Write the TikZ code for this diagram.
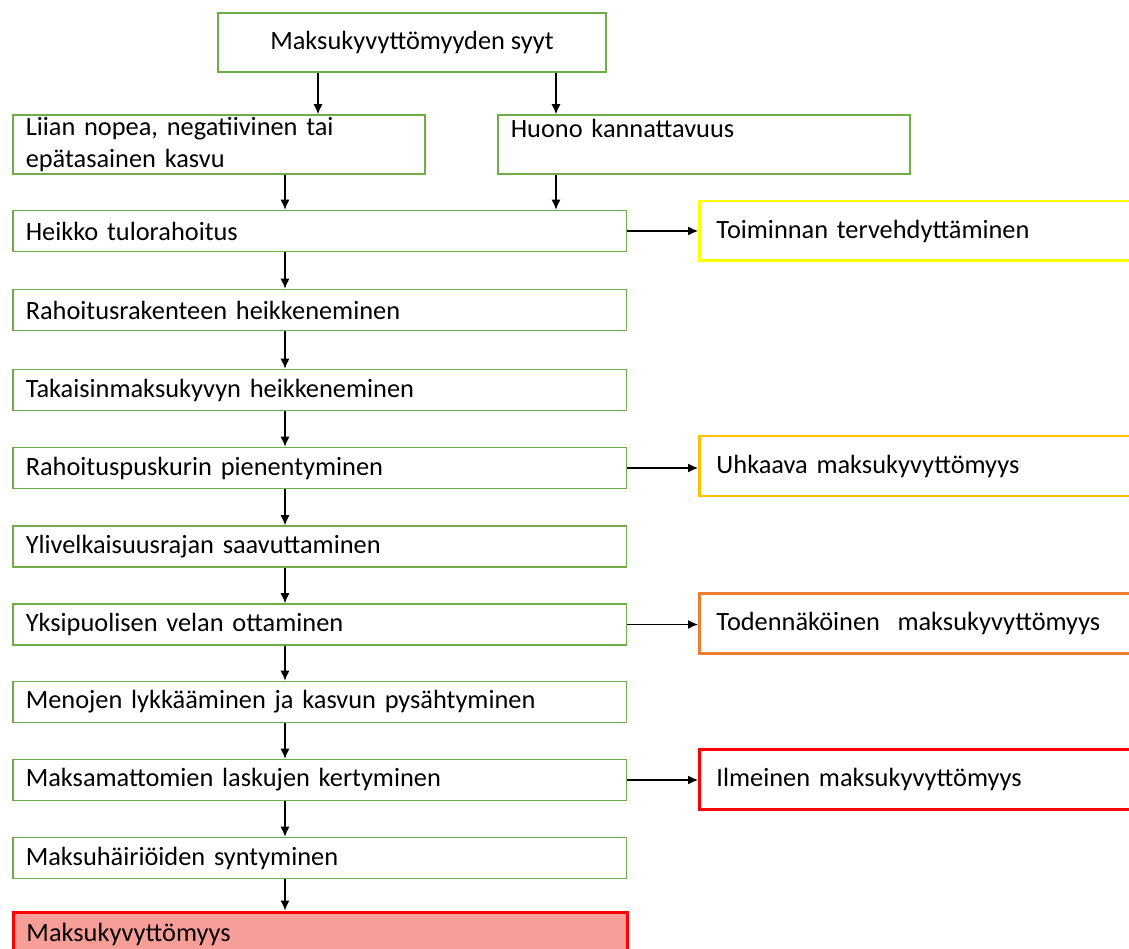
\documentclass[tikz,border=0pt]{standalone}
\usepackage{fontspec}
\setmainfont{Carlito}
\usetikzlibrary{arrows.meta}
\newcommand{\arw}{-{Latex[length=2mm,width=1.8mm]}}
\definecolor{boxgreen}{RGB}{112,173,71}
\definecolor{warnyellow}{RGB}{255,255,0}
\definecolor{warngold}{RGB}{255,192,0}
\definecolor{warnorange}{RGB}{237,125,49}
\definecolor{warnred}{RGB}{255,0,0}
\definecolor{endpink}{RGB}{248,158,152}
\tikzset{
  every node/.style={font=\fontsize{15}{18}\selectfont},
  stage/.style={draw=boxgreen,line width=0.9pt,minimum height=0.82cm,
    text width=11.76cm,inner xsep=0.26cm,inner ysep=0pt,align=left,anchor=west},
  cause/.style={draw=boxgreen,line width=0.9pt,minimum height=1.18cm,
    text width=7.72cm,inner xsep=0.26cm,inner ysep=0pt,align=left,anchor=west},
  level/.style={draw=#1,line width=1.7pt,minimum height=1.2cm,
    text width=8.12cm,inner xsep=0.34cm,inner ysep=0pt,align=left,anchor=west},
  link/.style={line width=0.7pt,\arw}
}

\begin{document}
\begin{tikzpicture}[x=0.02cm,y=-0.02cm]
\path[use as bounding box,clip] (0,0) rectangle (1129,949);
%causes
\node[draw=boxgreen,line width=0.9pt,minimum width=7.76cm,minimum height=1.18cm] (syyt) at (412,42.5) {Maksukyvyttömyyden syyt};
\node[cause] (kasvu) at (12,144.5) {Liian nopea, negatiivinen tai\\epätasainen kasvu};
\node[cause] (huono) at (497,144.5) {Huono kannattavuus\\\mbox{}};
%chain
\node[stage] (tulo) at (12,231) {Heikko tulorahoitus};
\node[stage] (rakenne) at (12,310) {Rahoitusrakenteen heikkeneminen};
\node[stage] (takaisin) at (12,390) {Takaisinmaksukyvyn heikkeneminen};
\node[stage] (puskuri) at (12,468) {Rahoituspuskurin pienentyminen};
\node[stage] (yli) at (12,546.5) {Ylivelkaisuusrajan saavuttaminen};
\node[stage] (velka) at (12,624.5) {Yksipuolisen velan ottaminen};
\node[stage] (menot) at (12,702) {Menojen lykkääminen ja kasvun pysähtyminen};
\node[stage] (laskut) at (12,780) {Maksamattomien laskujen kertyminen};
\node[stage] (hairio) at (12,858) {Maksuhäiriöiden syntyminen};
\node[stage,draw=warnred,line width=1.7pt,fill=endpink,minimum height=0.9cm] (loppu) at (12,934.5) {Maksukyvyttömyys};
%levels
\node[level=warnyellow] (terve) at (698,231) {Toiminnan tervehdyttäminen};
\node[level=warngold] (uhka) at (698,466) {Uhkaava maksukyvyttömyys};
\node[level=warnorange] (toden) at (698,623.5) {Todennäköinen~ maksukyvyttömyys};
\node[level=warnred] (ilmi) at (698,779.5) {Ilmeinen maksukyvyttömyys};
%arrows
\coordinate (la) at (318,0);
\coordinate (ra) at (556,0);
\coordinate (ca) at (285,0);
\draw[link] (syyt.south -| la) -- (kasvu.north -| la);
\draw[link] (syyt.south -| ra) -- (huono.north -| ra);
\draw[link] (kasvu.south -| ca) -- (tulo.north -| ca);
\draw[link] (huono.south -| ra) -- (tulo.north -| ra);
\draw[link] (tulo.south -| ca) -- (rakenne.north -| ca);
\draw[link] (rakenne.south -| ca) -- (takaisin.north -| ca);
\draw[link] (takaisin.south -| ca) -- (puskuri.north -| ca);
\draw[link] (puskuri.south -| ca) -- (yli.north -| ca);
\draw[link] (yli.south -| ca) -- (velka.north -| ca);
\draw[link] (velka.south -| ca) -- (menot.north -| ca);
\draw[link] (menot.south -| ca) -- (laskut.north -| ca);
\draw[link] (laskut.south -| ca) -- (hairio.north -| ca);
\draw[link] (hairio.south -| ca) -- (loppu.north -| ca);
\draw[link] (tulo.east) -- (terve.west |- tulo.east);
\draw[link] (puskuri.east) -- (uhka.west |- puskuri.east);
\draw[link] (velka.east) -- (toden.west |- velka.east);
\draw[link] (laskut.east) -- (ilmi.west |- laskut.east);
\end{tikzpicture}
\end{document}
